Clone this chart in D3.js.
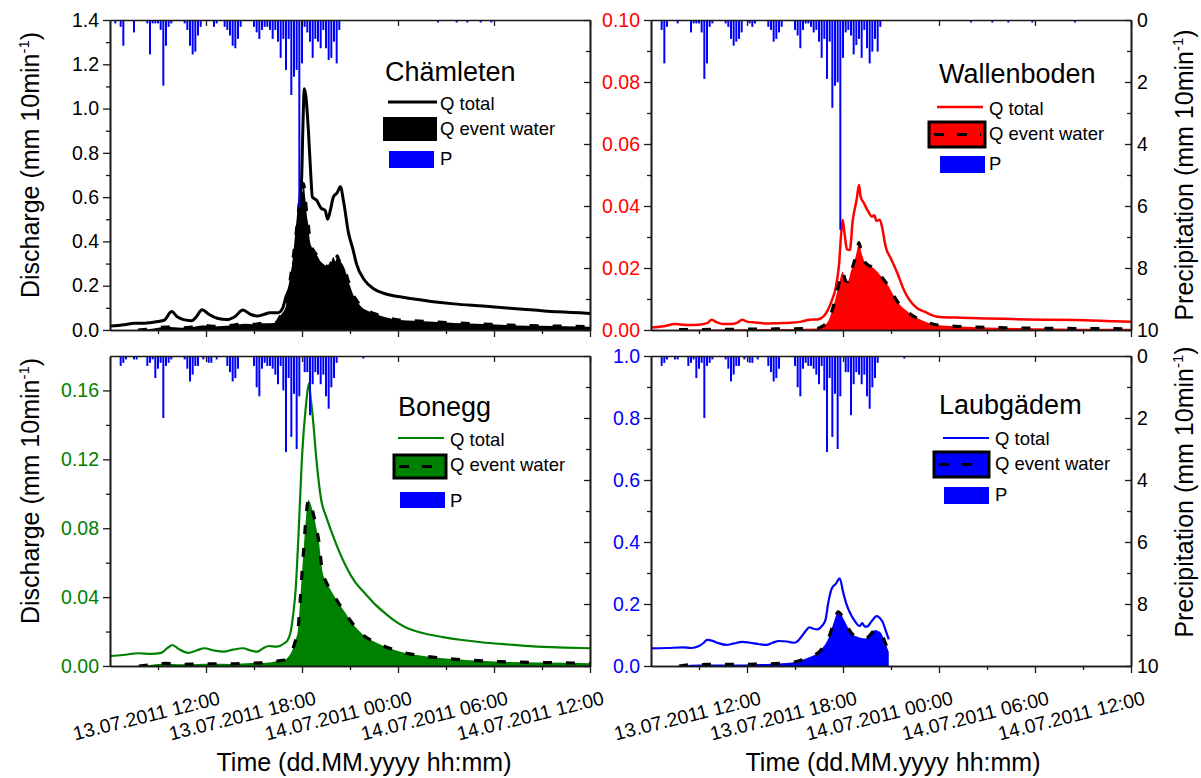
<!DOCTYPE html>
<html><head><meta charset="utf-8">
<script src="https://cdn.jsdelivr.net/npm/d3@7"></script>
<style>
body{margin:0;background:#fff}
svg{display:block}
text{font-family:"Liberation Sans", Arial, sans-serif}
</style>
</head><body>
<svg id="c" width="1201" height="778"></svg>
<script>
// ---------------- DATA ----------------
// time in hours after 13.07.2011 06:00 ; discharge in mm 10min-1
const xTickHours = [6, 12, 18, 24, 30];
const xMinorHours = [3, 9, 15, 21, 27];
const precipTicks = [0, 2, 4, 6, 8, 10];

const chamTotal = [[0,0.018],[0.5,0.02],[1,0.025],[1.5,0.03],[2,0.03],[2.5,0.033],[3,0.038],[3.4,0.045],[3.85,0.083],[4.2,0.06],[4.6,0.047],[5.1,0.042],[5.4,0.06],[5.75,0.092],[6.2,0.07],[6.7,0.053],[7.3,0.047],[7.8,0.06],[8.3,0.09],[8.8,0.07],[9.2,0.063],[9.6,0.07],[10,0.078],[10.5,0.078],[10.8,0.1],[11,0.15],[11.25,0.2],[11.46,0.286],[11.65,0.42],[11.77,0.51],[11.9,0.62],[11.98,0.69],[12.05,0.9],[12.15,1.09],[12.25,1.05],[12.4,0.9],[12.55,0.7],[12.65,0.6],[12.9,0.587],[13.2,0.55],[13.45,0.54],[13.6,0.5],[13.8,0.55],[13.96,0.6],[14.2,0.62],[14.4,0.647],[14.6,0.58],[14.9,0.44],[15.2,0.36],[15.4,0.3],[15.9,0.226],[16.5,0.185],[17.1,0.166],[18.1,0.15],[19,0.14],[20.2,0.128],[21.5,0.118],[23.3,0.108],[25,0.098],[26.5,0.09],[28,0.082],[30,0.075]];
const chamEvent = [[1.75,0],[2.5,0.004],[3,0.01],[3.5,0.013],[4,0.012],[4.5,0.01],[5,0.012],[5.5,0.018],[6,0.02],[6.5,0.016],[7,0.018],[7.5,0.02],[8,0.025],[8.5,0.028],[9,0.025],[9.5,0.03],[10,0.03],[10.4,0.035],[10.7,0.07],[11,0.11],[11.25,0.22],[11.4,0.3],[11.56,0.39],[11.7,0.48],[11.8,0.55],[11.9,0.62],[11.98,0.67],[12.05,0.62],[12.1,0.66],[12.2,0.6],[12.3,0.52],[12.4,0.47],[12.5,0.4],[12.6,0.376],[12.8,0.35],[13,0.33],[13.1,0.316],[13.3,0.3],[13.5,0.29],[13.65,0.286],[13.8,0.3],[13.96,0.33],[14.1,0.31],[14.2,0.335],[14.3,0.316],[14.5,0.3],[14.7,0.27],[14.85,0.23],[15,0.2],[15.2,0.16],[15.4,0.135],[15.7,0.105],[16,0.09],[16.5,0.075],[17.1,0.06],[18.1,0.045],[19,0.042],[20.2,0.037],[21.5,0.032],[23.3,0.027],[25,0.022],[27,0.019],[30,0.015]];
// precipitation: [10-min step after 06:00, mm]
const chamP = [[2,0.11],[4,0.22],[5,0.83],[9,0.4],[14,0.11],[15,1.11],[16,0.11],[17,0.11],[18,0.11],[19,0.32],[20,2.12],[21,0.83],[22,0.22],[23,0.11],[28,0.11],[29,0.32],[30,0.83],[31,1.11],[32,1.02],[33,0.5],[34,0.22],[39,0.22],[40,0.11],[43,0.22],[44,0.32],[45,0.5],[46,0.83],[47,0.91],[48,0.61],[49,0.22],[54,0.22],[55,0.4],[56,0.61],[57,0.32],[58,0.22],[59,0.22],[60,0.32],[61,0.61],[62,0.32],[63,0.7],[64,1.22],[65,0.61],[66,1.61],[67,0.61],[68,2.42],[69,1.83],[70,1.61],[71,6.03],[72,1.4],[73,0.22],[74,0.4],[75,0.7],[76,1.22],[77,0.61],[78,0.7],[79,0.91],[80,0.32],[81,0.91],[82,1.29],[83,1.22],[84,0.7],[85,1.4],[86,0.32],[123,0.08],[130,0.08],[134,0.08],[139,0.08],[143,0.08]];

const wallTotal = [[0,0.0008],[0.8,0.0012],[1.5,0.0019],[2.2,0.0016],[3,0.0017],[3.5,0.0022],[3.8,0.0033],[4.1,0.0025],[4.5,0.0019],[5,0.0019],[5.4,0.0024],[5.7,0.0033],[6,0.0027],[6.5,0.0024],[7.2,0.0021],[8,0.0022],[8.7,0.0023],[9.4,0.0027],[9.9,0.0033],[10.4,0.0034],[10.8,0.0045],[11.06,0.0065],[11.3,0.0095],[11.56,0.014],[11.75,0.021],[11.9,0.032],[11.98,0.0355],[12.1,0.031],[12.25,0.026],[12.43,0.0258],[12.6,0.035],[12.85,0.042],[13,0.0468],[13.1,0.043],[13.3,0.041],[13.6,0.038],[13.8,0.0366],[13.95,0.037],[14.1,0.0352],[14.3,0.0356],[14.45,0.033],[14.66,0.027],[15,0.023],[15.4,0.0183],[15.8,0.013],[16.15,0.0097],[16.6,0.0072],[17.1,0.0059],[17.9,0.0043],[19,0.004],[20.4,0.0038],[22,0.0036],[23.5,0.0034],[25,0.0033],[26.6,0.0032],[28,0.003],[29,0.0028],[30,0.0027]];
const wallEvent = [[1.75,0.0001],[4,0.0002],[7,0.0003],[10.4,0.0005],[10.7,0.0012],[11.06,0.0027],[11.3,0.006],[11.56,0.0107],[11.8,0.016],[11.98,0.0188],[12.15,0.016],[12.3,0.0156],[12.5,0.019],[12.67,0.0215],[12.85,0.025],[13,0.0282],[13.15,0.025],[13.3,0.0226],[13.55,0.021],[13.8,0.0204],[14.1,0.019],[14.4,0.0172],[14.8,0.0145],[15.15,0.0113],[15.5,0.0085],[15.9,0.0065],[16.4,0.0045],[16.9,0.0032],[17.4,0.0022],[17.9,0.0016],[19,0.0012],[20.4,0.0009],[24,0.0006],[30,0.0004]];
const wallP = [[4,0.32],[5,1.4],[6,0.22],[10,0.11],[15,0.4],[16,0.11],[17,0.11],[18,0.11],[19,0.4],[20,1.9],[21,1.4],[22,0.22],[23,0.11],[28,0.11],[29,0.22],[30,0.61],[31,0.83],[32,0.7],[33,0.61],[34,0.4],[37,0.11],[38,0.22],[39,0.11],[44,0.22],[45,0.32],[46,0.7],[47,0.61],[48,0.4],[49,0.22],[54,0.32],[55,0.5],[56,0.91],[57,0.32],[58,0.11],[59,0.11],[60,0.22],[61,0.4],[62,0.32],[63,0.7],[64,1.22],[65,0.61],[66,1.9],[67,0.7],[68,2.83],[69,2.12],[70,2.01],[71,6.77],[72,1.22],[73,0.4],[74,0.32],[75,0.5],[76,1.11],[77,0.81],[78,0.61],[79,1.22],[80,0.32],[81,0.91],[82,1.4],[83,1.02],[84,0.61],[85,1.02],[86,0.22],[120,0.08],[128,0.08],[134,0.08],[143,0.08],[159,0.08]];

const boneTotal = [[0,0.0058],[0.8,0.0064],[1.8,0.0074],[2.6,0.007],[3.2,0.0076],[3.6,0.0105],[3.9,0.0122],[4.3,0.0098],[4.9,0.0076],[5.4,0.009],[5.9,0.0103],[6.5,0.009],[7.1,0.0083],[7.7,0.0095],[8.3,0.0103],[8.8,0.009],[9.2,0.0083],[9.6,0.0105],[9.95,0.0116],[10.4,0.0112],[10.9,0.0132],[11.1,0.015],[11.27,0.019],[11.45,0.03],[11.6,0.044],[11.8,0.08],[12,0.1215],[12.24,0.1506],[12.43,0.164],[12.55,0.155],[12.67,0.1448],[12.9,0.12],[13.2,0.0964],[13.5,0.087],[13.8,0.079],[14.3,0.067],[14.76,0.0577],[15.3,0.049],[15.96,0.042],[16.6,0.0355],[17.2,0.0306],[17.8,0.0262],[18.4,0.0228],[19.6,0.019],[20.8,0.0168],[22,0.0151],[23.2,0.0138],[24.4,0.0128],[25.6,0.012],[26.8,0.0112],[28.4,0.0107],[30,0.0103]];
const boneEvent = [[1.8,0],[2.5,0.0006],[3.46,0.0015],[4.5,0.001],[5.5,0.0012],[6.5,0.0013],[7.5,0.0012],[8.5,0.0016],[9.5,0.0018],[9.95,0.002],[10.5,0.003],[10.9,0.0035],[11.2,0.006],[11.4,0.0093],[11.6,0.015],[11.75,0.021],[11.9,0.04],[12,0.054],[12.12,0.07],[12.24,0.085],[12.4,0.0964],[12.5,0.095],[12.7,0.0887],[12.9,0.08],[13.07,0.0713],[13.2,0.06],[13.3,0.054],[13.5,0.049],[13.8,0.044],[14.3,0.0364],[14.7,0.031],[15,0.0267],[15.5,0.021],[15.96,0.017],[16.6,0.0138],[17.2,0.0112],[17.8,0.0093],[18.4,0.0077],[19.6,0.0058],[20.8,0.0045],[22.5,0.0034],[24.4,0.0025],[27,0.002],[30,0.0016]];
const boneP = [[4,0.32],[5,0.22],[6,0.11],[9,0.11],[10,0.11],[14,0.32],[15,0.22],[16,0.11],[17,0.71],[18,0.41],[19,0.22],[20,2.0],[21,0.32],[22,0.22],[23,0.11],[28,0.11],[29,0.41],[30,0.82],[31,0.6],[32,0.32],[33,0.32],[35,0.11],[37,0.22],[38,0.22],[40,0.11],[44,0.32],[45,0.52],[46,0.82],[47,0.71],[48,0.41],[54,0.32],[55,1.01],[56,1.3],[57,0.41],[58,0.22],[59,0.32],[60,0.32],[61,0.41],[62,0.6],[63,0.91],[64,0.32],[65,1.11],[66,3.1],[67,0.71],[68,2.61],[69,1.22],[70,3.0],[71,1.3],[73,0.52],[74,0.52],[75,1.91],[76,0.91],[77,0.52],[78,0.6],[79,0.91],[80,0.6],[81,1.3],[82,1.7],[83,1.01],[84,0.71],[85,0.22],[95,0.08]];

const laubTotal = [[0,0.057],[1,0.058],[2,0.06],[2.5,0.058],[3,0.0645],[3.3,0.075],[3.5,0.084],[3.8,0.082],[4.2,0.074],[4.7,0.068],[5.2,0.073],[5.7,0.078],[6.2,0.075],[6.7,0.071],[7.2,0.068],[7.6,0.075],[8,0.0806],[8.5,0.079],[8.95,0.075],[9.2,0.082],[9.4,0.0946],[9.7,0.115],[9.9,0.125],[10.15,0.12],[10.4,0.118],[10.7,0.13],[10.9,0.148],[11.1,0.21],[11.3,0.25],[11.55,0.265],[11.8,0.283],[12,0.24],[12.2,0.202],[12.45,0.17],[12.7,0.148],[13.05,0.129],[13.2,0.138],[13.35,0.128],[13.5,0.127],[13.8,0.145],[14.1,0.161],[14.3,0.155],[14.47,0.143],[14.7,0.11],[14.86,0.086]];
const laubEvent = [[1.75,0],[2.5,0.004],[3.5,0.005],[5,0.005],[6.5,0.006],[7.5,0.007],[8.2,0.009],[8.7,0.0108],[9.1,0.014],[9.4,0.019],[9.8,0.027],[10.2,0.035],[10.5,0.045],[10.7,0.057],[11,0.08],[11.2,0.105],[11.45,0.145],[11.7,0.175],[11.9,0.165],[12.07,0.148],[12.25,0.13],[12.4,0.116],[12.65,0.1],[12.9,0.0946],[13.15,0.09],[13.4,0.089],[13.7,0.1],[14,0.116],[14.2,0.113],[14.4,0.105],[14.6,0.08],[14.86,0.045]];
const laubP = boneP;

// ---------------- LAYOUT ----------------
const svg = d3.select("#c");
const W = 480, H = 310;
const colX = [110, 651], rowY = [20, 356];
const start = new Date(2011, 6, 13, 6, 0), end = new Date(2011, 6, 14, 12, 0);
const hrs = h => new Date(start.getTime() + h * 3600e3);
const fmtTime = d3.timeFormat("%d.%m.%Y %H:%M");
const AX = "#1a1a1a";
const LEGFS = "18.5px";

const panels = [
  {name:"Chämleten", c:0, r:0, color:"#000000", yMax:1.4, yStep:0.2, fmt:".1f", total:chamTotal, event:chamEvent, precip:chamP, lw:3, box:false,
   leg:{tx:385,ty:81,lx1:388,lx2:437,ly:102,textX:440,y1:110,rect:[383,117,54,24],y2:135,prect:[389,151,45,17],y3:165}, yTitleY:165},
  {name:"Wallenboden", c:1, r:0, color:"#ff0000", yMax:0.1, yStep:0.02, fmt:".2f", total:wallTotal, event:wallEvent, precip:wallP, lw:2.5, box:true,
   leg:{tx:939,ty:83,lx1:937,lx2:983,ly:107,textX:989,y1:115,rect:[929,122,56,25],y2:140,prect:[940,156,45,17],y3:170}, pTitleY:175},
  {name:"Bonegg", c:0, r:1, color:"#008000", yMax:0.18, yStep:0.04, fmt:".2f", total:boneTotal, event:boneEvent, precip:boneP, lw:2.2, box:true,
   leg:{tx:398,ty:416,lx1:398,lx2:444,ly:438,textX:450,y1:446,rect:[394,455,52,23],y2:471,prect:[400,492,45,16],y3:507}, yTitleY:491, xTitleX:364},
  {name:"Laubgädem", c:1, r:1, color:"#0000ff", yMax:1.0, yStep:0.2, fmt:".1f", total:laubTotal, event:laubEvent, precip:laubP, lw:2.2, box:true,
   leg:{tx:939,ty:414,lx1:943,lx2:989,ly:438,textX:995,y1:445,rect:[934,452,55,25],y2:470,prect:[944,487,45,17],y3:501}, pTitleY:492, xTitleX:893}
];

function styleAxis(g, color) {
  g.selectAll("path.domain").attr("stroke", AX).attr("stroke-width", 1.6);
  g.selectAll(".tick line").attr("stroke", AX).attr("stroke-width", 1.3);
  g.selectAll(".tick text").attr("fill", color).style("font-size", "19.5px")
    .style("font-family", '"Liberation Sans", Arial, sans-serif');
}

panels.forEach((p, i) => {
  const x0 = colX[p.c], y0 = rowY[p.r];
  const x = d3.scaleTime().domain([start, end]).range([x0, x0 + W]);
  const y = d3.scaleLinear().domain([0, p.yMax]).range([y0 + H, y0]);
  const yp = d3.scaleLinear().domain([0, 10]).range([y0, y0 + H]);

  const clipId = "clip" + i;
  svg.append("clipPath").attr("id", clipId).append("rect")
    .attr("x", x0).attr("y", y0).attr("width", W).attr("height", H);
  const plot = svg.append("g").attr("clip-path", `url(#${clipId})`);

  const area = d3.area().x(d => x(hrs(d[0]))).y0(y(0)).y1(d => y(d[1])).curve(d3.curveMonotoneX);
  plot.append("path").datum(p.event).attr("d", area).attr("fill", p.color);
  const line = d3.line().x(d => x(hrs(d[0]))).y(d => y(d[1])).curve(d3.curveMonotoneX);
  plot.append("path").datum(p.total).attr("d", line).attr("fill", "none")
    .attr("stroke", p.color).attr("stroke-width", p.lw).attr("stroke-linejoin", "round");
  plot.append("path").datum(p.event).attr("d", line).attr("fill", "none")
    .attr("stroke", "#000").attr("stroke-width", 3.2).attr("stroke-dasharray", "9,14");
  plot.selectAll("rect.p").data(p.precip).join("rect").attr("class", "p")
    .attr("x", d => x(hrs(d[0] / 6)) - 1).attr("width", 2)
    .attr("y", yp(0)).attr("height", d => yp(d[1]) - yp(0))
    .attr("fill", "#0000ff");

  const majors = d3.range(0, p.yMax + 1e-9, p.yStep);
  const minors = d3.range(p.yStep / 2, p.yMax, p.yStep);
  const gl = svg.append("g").attr("transform", `translate(${x0},0)`)
    .call(d3.axisLeft(y).tickValues(majors).tickFormat(d3.format(p.fmt)).tickSize(7).tickSizeOuter(0).tickPadding(4));
  styleAxis(gl, p.color);
  const glm = svg.append("g").attr("transform", `translate(${x0},0)`)
    .call(d3.axisLeft(y).tickValues(minors).tickFormat("").tickSize(4).tickSizeOuter(0));
  styleAxis(glm, p.color);

  const gb = svg.append("g").attr("transform", `translate(0,${y0 + H})`)
    .call(d3.axisBottom(x).tickValues(xTickHours.map(hrs)).tickFormat("").tickSize(7).tickSizeOuter(0));
  styleAxis(gb, "#000");
  const gbm = svg.append("g").attr("transform", `translate(0,${y0 + H})`)
    .call(d3.axisBottom(x).tickValues(xMinorHours.map(hrs)).tickFormat("").tickSize(4).tickSizeOuter(0));
  styleAxis(gbm, "#000");

  const gt = svg.append("g").attr("transform", `translate(0,${y0})`)
    .call(d3.axisTop(x).tickValues(xTickHours.map(hrs)).tickFormat("").tickSize(-6).tickSizeOuter(0));
  styleAxis(gt, "#000");

  const gr = svg.append("g").attr("transform", `translate(${x0 + W},0)`)
    .call(d3.axisRight(yp).tickValues(precipTicks).tickFormat(p.c === 1 ? d3.format("d") : "").tickSize(-6).tickSizeOuter(0).tickPadding(6));
  styleAxis(gr, "#000");
  const grm = svg.append("g").attr("transform", `translate(${x0 + W},0)`)
    .call(d3.axisRight(yp).tickValues([1, 3, 5, 7, 9]).tickFormat("").tickSize(-4).tickSizeOuter(0));
  styleAxis(grm, "#000");

  if (p.r === 1) {
    svg.append("g").selectAll("text").data(xTickHours).join("text")
      .attr("transform", d => `translate(${x(hrs(d)) + 15},${y0 + H + 38}) rotate(-14)`)
      .attr("text-anchor", "end").style("font-size", "19.5px").attr("fill", "#000")
      .text(d => fmtTime(hrs(d)));
    svg.append("text").attr("x", p.xTitleX).attr("y", 771).attr("text-anchor", "middle")
      .style("font-size", "25px").text("Time (dd.MM.yyyy hh:mm)");
  }

  if (p.c === 0) {
    const t = svg.append("text").attr("transform", `translate(39,${p.yTitleY}) rotate(-90)`)
      .attr("text-anchor", "middle").style("font-size", "25px");
    t.append("tspan").text("Discharge (mm 10min");
    t.append("tspan").attr("dy", -10).style("font-size", "15px").text("-1");
    t.append("tspan").attr("dy", 10).text(")");
  } else {
    const t = svg.append("text").attr("transform", `translate(1193,${p.pTitleY}) rotate(-90)`)
      .attr("text-anchor", "middle").style("font-size", "25px");
    t.append("tspan").text("Precipitation (mm 10min");
    t.append("tspan").attr("dy", -10).style("font-size", "15px").text("-1");
    t.append("tspan").attr("dy", 10).text(")");
  }

  const L = p.leg, lg = svg.append("g");
  lg.append("text").attr("x", L.tx).attr("y", L.ty).style("font-size", "27px").text(p.name);
  lg.append("line").attr("x1", L.lx1).attr("x2", L.lx2).attr("y1", L.ly).attr("y2", L.ly)
    .attr("stroke", p.color).attr("stroke-width", p.lw);
  lg.append("text").attr("x", L.textX).attr("y", L.y1).style("font-size", LEGFS).text("Q total");
  lg.append("rect").attr("x", L.rect[0]).attr("y", L.rect[1]).attr("width", L.rect[2]).attr("height", L.rect[3])
    .attr("fill", p.color).attr("stroke", "#000").attr("stroke-width", p.box ? 3 : 0);
  if (p.box) {
    lg.append("line").attr("x1", L.rect[0] + 5).attr("x2", L.rect[0] + L.rect[2] - 4)
      .attr("y1", L.rect[1] + L.rect[3] / 2).attr("y2", L.rect[1] + L.rect[3] / 2)
      .attr("stroke", "#000").attr("stroke-width", 3.2).attr("stroke-dasharray", "10,13");
  }
  lg.append("text").attr("x", L.textX).attr("y", L.y2).style("font-size", LEGFS).text("Q event water");
  lg.append("rect").attr("x", L.prect[0]).attr("y", L.prect[1]).attr("width", L.prect[2]).attr("height", L.prect[3])
    .attr("fill", "#0000ff");
  lg.append("text").attr("x", L.textX).attr("y", L.y3).style("font-size", LEGFS).text("P");
});
</script>
</body></html>
